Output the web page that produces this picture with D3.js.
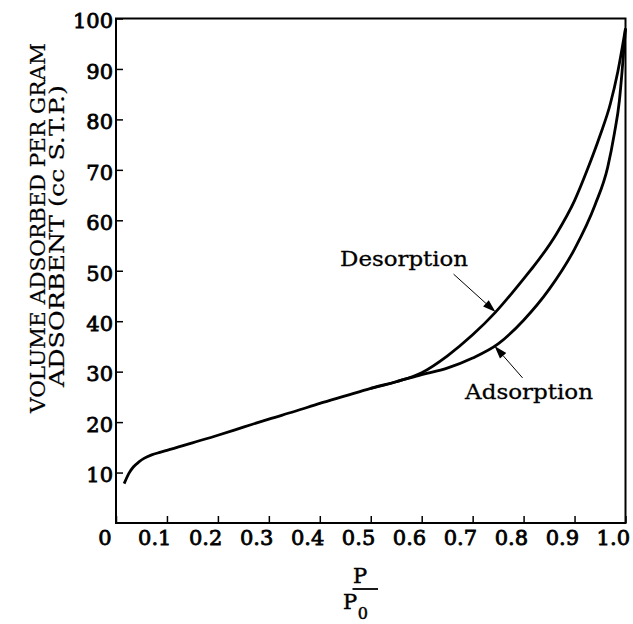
<!DOCTYPE html>
<html>
<head>
<meta charset="utf-8">
<script src="https://cdn.jsdelivr.net/npm/d3@7"></script>
<style>
  html, body { margin: 0; padding: 0; background: #fff; }
  svg { display: block; }
  text { font-family: "DejaVu Serif", "Liberation Serif", serif; fill: #000; }
</style>
</head>
<body>
<svg id="chart" width="633" height="624"></svg>
<script>
// Relative pressure P/P0 and volume adsorbed (cc S.T.P. per gram)
const adsorptionX = [0.016, 0.025, 0.034, 0.045, 0.055, 0.07, 0.086, 0.1, 0.15, 0.2, 0.25, 0.3, 0.35, 0.4, 0.45, 0.5, 0.55, 0.6, 0.65, 0.7, 0.75, 0.8, 0.85, 0.9, 0.94, 0.965, 0.978, 0.988, 0.994, 1.0];
const adsorptionV = [7.8, 9.8, 11.1, 12.1, 12.8, 13.5, 14.0, 14.4, 15.9, 17.4, 19.0, 20.6, 22.1, 23.7, 25.2, 26.7, 28.0, 29.4, 30.7, 32.7, 35.5, 40.2, 46.3, 54.3, 63.0, 70.5, 77.1, 83.7, 90.4, 98.0];

const desorptionX = [0.5, 0.55, 0.6, 0.65, 0.7, 0.745, 0.8, 0.82, 0.865, 0.9, 0.925, 0.95, 0.97, 0.985, 1.0];
const desorptionV = [26.7, 28.0, 29.8, 33.1, 37.3, 41.8, 48.4, 50.9, 57.4, 63.9, 70.0, 76.8, 83.0, 89.5, 98.0];

const xTickValues = [0, 0.1, 0.2, 0.3, 0.4, 0.5, 0.6, 0.7, 0.8, 0.9, 1.0];
const xTickLabels = ["0", "0.1", "0.2", "0.3", "0.4", "0.5", "0.6", "0.7", "0.8", "0.9", "1.0"];
const yTickValues = [10, 20, 30, 40, 50, 60, 70, 80, 90, 100];
const yTickLabels = ["10", "20", "30", "40", "50", "60", "70", "80", "90", "100"];

const yTitleLines = ["VOLUME ADSORBED PER GRAM", "ADSORBENT (cc S.T.P.)"];
const curveNames = ["Desorption", "Adsorption"];

const svg = d3.select("#chart");
const plotLeft = 116, plotRight = 625.5, plotTop = 18.5, plotBottom = 523;

const x = d3.scaleLinear().domain([0, 1]).range([plotLeft, plotRight]);
const y = d3.scaleLinear().domain([0, 100]).range([plotBottom, plotTop]);

// Axes: ticks point into the plot
const xAxis = d3.axisBottom(x)
  .tickValues(xTickValues)
  .tickFormat((d, i) => xTickLabels[i])
  .tickSizeInner(-7).tickSizeOuter(0);
const gx = svg.append("g").attr("transform", `translate(0,${plotBottom})`).call(xAxis);
gx.select(".domain").remove();
gx.selectAll(".tick line").attr("stroke", "#000").attr("stroke-width", 1.5);
gx.selectAll(".tick text")
  .attr("font-size", 21)
  .attr("text-anchor", "end")
  .attr("dy", null)
  .attr("y", 21.5)
  .attr("x", (d, i) => i === 0 ? -5 : 4)
  .attr("stroke", "#000").attr("stroke-width", 0.8)
  .attr("font-family", "DejaVu Serif");

const yAxis = d3.axisLeft(y)
  .tickValues(yTickValues)
  .tickFormat((d, i) => yTickLabels[i])
  .tickSizeInner(-7).tickSizeOuter(0).tickPadding(3);
const gy = svg.append("g").attr("transform", `translate(${plotLeft},0)`).call(yAxis);
gy.select(".domain").remove();
gy.selectAll(".tick line").attr("stroke", "#000").attr("stroke-width", 1.5);
gy.selectAll(".tick text")
  .attr("font-size", 21)
  .attr("dy", "0.44em")
  .attr("stroke", "#000").attr("stroke-width", 0.8)
  .attr("font-family", "DejaVu Serif");

// Frame
svg.append("rect")
  .attr("x", x(0)).attr("y", y(100))
  .attr("width", x(1) - x(0)).attr("height", y(0) - y(100))
  .attr("fill", "none").attr("stroke", "#000").attr("stroke-width", 2);

// Isotherm curves
const line = d3.line()
  .x(d => x(d[0])).y(d => y(d[1]))
  .curve(d3.curveMonotoneX);

const adsorption = d3.zip(adsorptionX, adsorptionV);
const desorption = d3.zip(desorptionX, desorptionV);

svg.append("path").datum(adsorption)
  .attr("d", line).attr("fill", "none")
  .attr("stroke", "#000").attr("stroke-width", 2.8).attr("stroke-linejoin", "round");
svg.append("path").datum(desorption)
  .attr("d", line).attr("fill", "none")
  .attr("stroke", "#000").attr("stroke-width", 2.8).attr("stroke-linejoin", "round");

// Callouts pointing at each branch
function valueAt(xs, vs, px) {
  const i = Math.max(1, d3.bisectLeft(xs, px));
  const t = (px - xs[i - 1]) / (xs[i] - xs[i - 1]);
  return vs[i - 1] + t * (vs[i] - vs[i - 1]);
}
const callouts = [
  { label: curveNames[0], xs: desorptionX, vs: desorptionV, at: 0.745, tail: [-42, -38], text: [-155.5, -46.5] },
  { label: curveNames[1], xs: adsorptionX, vs: adsorptionV, at: 0.743, tail: [28, 32], text: [-29.5, 52.7] }
];
callouts.forEach(c => {
  const tx = x(c.at), ty = y(valueAt(c.xs, c.vs, c.at));
  const sx = tx + c.tail[0], sy = ty + c.tail[1];
  const len = Math.hypot(tx - sx, ty - sy);
  const ux = (tx - sx) / len, uy = (ty - sy) / len;
  const headLen = 13, headW = 4.2;
  const bx = tx - ux * headLen, by = ty - uy * headLen;
  svg.append("line")
    .attr("x1", sx).attr("y1", sy).attr("x2", bx).attr("y2", by)
    .attr("stroke", "#000").attr("stroke-width", 1);
  svg.append("path")
    .attr("d", `M${tx},${ty}L${bx - uy * headW},${by + ux * headW}L${bx + uy * headW},${by - ux * headW}Z`)
    .attr("fill", "#000");
  svg.append("text")
    .attr("x", tx + c.text[0]).attr("y", ty + c.text[1])
    .attr("font-size", 21)
    .attr("textLength", 128).attr("lengthAdjust", "spacingAndGlyphs")
    .attr("stroke", "#000").attr("stroke-width", 0.3)
    .text(c.label);
});

// Y-axis title, two rotated lines
const yTitle = [
  { text: yTitleLines[0], bx: 45, cy: 228, len: 370 },
  { text: yTitleLines[1], bx: 63.5, cy: 236, len: 302 }
];
yTitle.forEach(t => {
  svg.append("text")
    .attr("transform", `translate(${t.bx},${t.cy}) rotate(-90)`)
    .attr("text-anchor", "middle")
    .attr("font-size", 20)
    .attr("textLength", t.len).attr("lengthAdjust", "spacingAndGlyphs")
    .attr("stroke", "#000").attr("stroke-width", 0.2)
    .text(t.text);
});

// X-axis title: P over P0
const xt = svg.append("g");
xt.append("text").attr("x", 360).attr("y", 583)
  .attr("text-anchor", "middle").attr("font-size", 21)
  .attr("stroke", "#000").attr("stroke-width", 0.5).text("P");
xt.append("line").attr("x1", 352.5).attr("x2", 378).attr("y1", 589).attr("y2", 589)
  .attr("stroke", "#000").attr("stroke-width", 1.8);
const den = xt.append("text").attr("x", 343).attr("y", 609)
  .attr("font-size", 21).attr("stroke", "#000").attr("stroke-width", 0.5);
den.append("tspan").text("P");
den.append("tspan").attr("font-size", 16).attr("dx", 0.5).attr("dy", 10).text("0");
</script>
</body>
</html>
